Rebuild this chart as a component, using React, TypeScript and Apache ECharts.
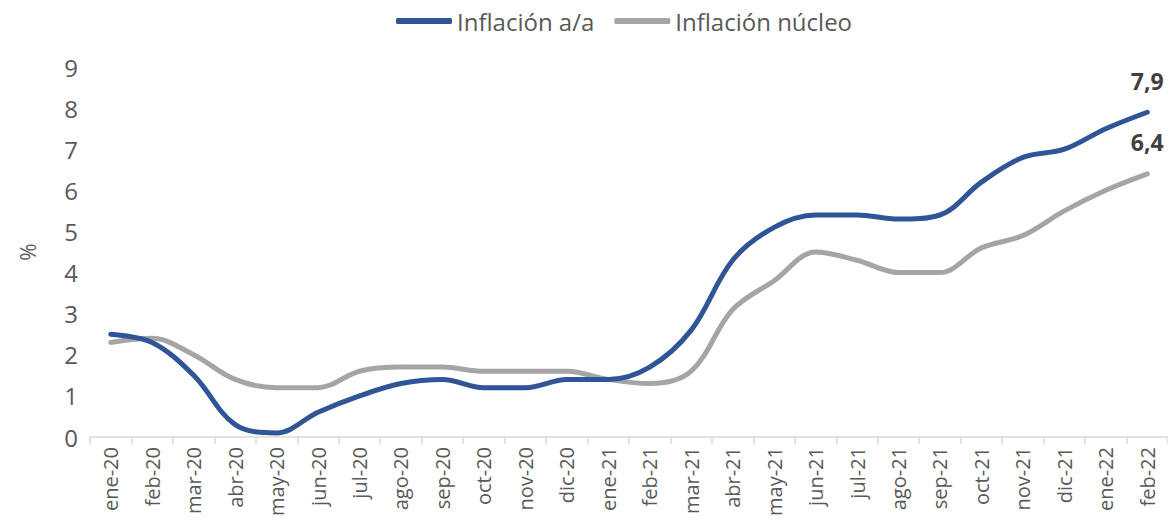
import React, { useEffect, useRef } from "react";
import * as echarts from "echarts";

const categories = [
  "ene-20", "feb-20", "mar-20", "abr-20", "may-20", "jun-20", "jul-20", "ago-20", "sep-20", "oct-20", "nov-20", "dic-20",
  "ene-21", "feb-21", "mar-21", "abr-21", "may-21", "jun-21", "jul-21", "ago-21", "sep-21", "oct-21", "nov-21", "dic-21",
  "ene-22", "feb-22",
];

const inflacionAA = [
  2.5, 2.3, 1.5, 0.3, 0.1, 0.6, 1.0, 1.3, 1.4, 1.2, 1.2, 1.4,
  1.4, 1.7, 2.6, 4.3, 5.1, 5.4, 5.4, 5.3, 5.4, 6.2, 6.8, 7.0,
  7.5, 7.9,
];

const inflacionNucleo = [
  2.3, 2.4, 2.0, 1.4, 1.2, 1.2, 1.6, 1.7, 1.7, 1.6, 1.6, 1.6,
  1.4, 1.3, 1.6, 3.1, 3.8, 4.5, 4.3, 4.0, 4.0, 4.6, 4.9, 5.5,
  6.0, 6.4,
];

const yTicks = [0, 1, 2, 3, 4, 5, 6, 7, 8, 9];

const FONT = "'Open Sans', 'Noto Sans', sans-serif";
const TEXT = "#595959";

function withEndLabel(values: number[]) {
  return values.map((v, i) =>
    i === values.length - 1
      ? {
          value: v,
          label: {
            show: true,
            position: "top",
            distance: 20,
            fontFamily: FONT,
            fontSize: 23,
            fontWeight: "bold",
            color: "#404040",
            formatter: (p: any) => String(p.value).replace(".", ","),
          },
        }
      : v
  );
}

export default function App() {
  const ref = useRef<HTMLDivElement>(null);
  useEffect(() => {
    if (!ref.current) return;
    const chart = echarts.init(ref.current, null, { renderer: "svg" });
    chart.setOption({
      animation: false,
      backgroundColor: "#ffffff",
      legend: {
        left: 391,
        top: 4,
        itemWidth: 56,
        itemHeight: 6,
        itemGap: 20,
        icon: "roundRect",
        textStyle: { fontFamily: FONT, fontSize: 24, color: TEXT },
        data: ["Inflación a/a", "Inflación núcleo"],
      },
      grid: { left: 90, top: 67, height: 370, width: 1087 },
      xAxis: {
        type: "category",
        data: categories,
        boundaryGap: true,
        axisLine: { show: true, lineStyle: { color: "#D9D9D9", width: 1.5 } },
        axisTick: { show: true, length: 7, lineStyle: { color: "#D9D9D9", width: 1.5 } },
        axisLabel: {
          rotate: 90,
          interval: 0,
          margin: 10,
          fontFamily: FONT,
          fontSize: 20,
          color: TEXT,
        },
      },
      yAxis: {
        type: "value",
        min: yTicks[0],
        max: yTicks[yTicks.length - 1],
        interval: 1,
        name: "%",
        nameLocation: "middle",
        nameGap: 52,
        nameRotate: 90,
        nameTextStyle: { fontFamily: FONT, fontSize: 21, color: TEXT },
        axisLine: { show: false },
        axisTick: { show: false },
        splitLine: { show: false },
        axisLabel: { margin: 12, fontFamily: FONT, fontSize: 24, color: TEXT },
      },
      series: [
        {
          name: "Inflación a/a",
          type: "line",
          data: withEndLabel(inflacionAA),
          smooth: 0.35,
          showSymbol: true,
          showAllSymbol: true,
          symbol: "circle",
          symbolSize: 0.1,
          lineStyle: { color: "#2F5597", width: 5, cap: "round" },
          itemStyle: { color: "#2F5597" },
          z: 3,
        },
        {
          name: "Inflación núcleo",
          type: "line",
          data: withEndLabel(inflacionNucleo),
          smooth: 0.35,
          showSymbol: true,
          showAllSymbol: true,
          symbol: "circle",
          symbolSize: 0.1,
          lineStyle: { color: "#A5A5A5", width: 5, cap: "round" },
          itemStyle: { color: "#A5A5A5" },
          z: 2,
        },
      ],
    });
    return () => chart.dispose();
  }, []);
  return (
    <div
      ref={ref}
      style={{ position: "absolute", left: 0, top: 0, width: 1168, height: 526 }}
    />
  );
}
